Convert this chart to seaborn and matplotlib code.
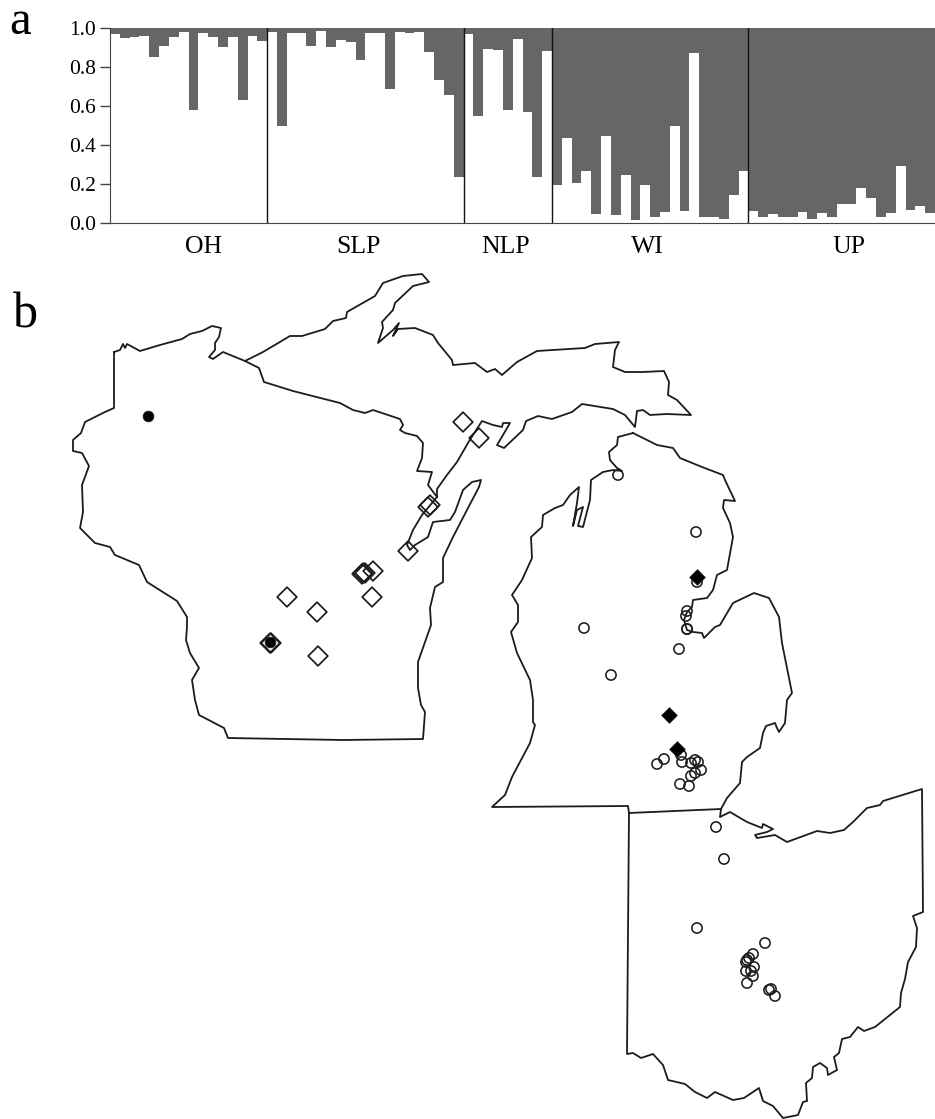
import matplotlib
matplotlib.use('Agg')
import matplotlib.pyplot as plt
import pandas as pd
import seaborn as sns

# panel a: white share of each bar, by region
oh = [.97, .95, .955, .96, .85, .91, .955, .98, .58, .975, .955, .905, .955, .63, .96, .935]
slp = [.98, .50, .975, .975, .91, .985, .905, .94, .93, .835, .975, .975, .685, .98, .975, .98, .875, .735, .655, .235]
nlp = [.97, .55, .89, .885, .58, .945, .57, .235, .88]
wi = [.196, .437, .206, .268, .044, .444, .04, .244, .014, .195, .03, .058, .495, .063, .87, .03, .03, .02, .145, .268]
up = [.061, .03, .044, .03, .03, .058, .02, .05, .03, .099, .099, .18, .13, .03, .05, .294, .068, .087, .05]
region_names = ['OH', 'SLP', 'NLP', 'WI', 'UP']
region_label_pos = [8.97, 24.75, 39.82, 54.2, 74.75]
y_ticks = [0.0, 0.2, 0.4, 0.6, 0.8, 1.0]

# panel b: outlines and sites in picture pixels
wisconsin = [(114,352),(120,350),(123,344),(125,348),(127,344),(140,351),(160,345),(182,339),(190,334),(202,331),
             (212,326),(221,328),(219,337),(215,343),(215,350),(209,357),(213,359),(223,352),(245,361),(259,368),
             (264,382),(293,391),(340,403),(353,410),(365,413),(373,410),(400,419),(403,425),(400,430),(405,433),
             (417,436),(423,443),(422,458),(417,471),(432,472),(428,485),(437,497),(422,515),(413,530),(407,545),
             (410,550),(415,545),(428,537),(433,522),(450,520),(455,512),(463,490),(472,482),(481,480),(479,487),
             (468,508),(453,537),(443,558),(443,582),(435,587),(430,608),(431,625),(418,662),(418,688),(421,705),
             (425,712),(423,739),(343,740),(228,738),(224,728),(199,715),(195,700),(192,680),(199,668),(190,653),
             (186,640),(187,627),(187,617),(177,601),(147,582),(139,565),(115,555),(110,547),(95,543),(80,528),
             (83,512),(82,485),(89,466),(82,453),(73,451),(73,440),(81,433),(85,422),(105,412),(114,408),(114,352)]
upper_pen = [(245,361),(263,352),(290,336),(302,336),(325,329),(333,321),(346,318),(347,312),(375,296),(383,283),
             (403,276),(422,274),(429,282),(413,286),(395,303),(393,310),(382,322),(383,328),(378,343),(393,330),
             (399,323),(393,336),(398,329),(415,328),(433,335),(438,343),(452,360),(453,365),(475,363),(487,372),
             (495,369),(502,375),(517,362),(537,351),(585,348),(595,344),(619,342),(615,350),(613,367),(625,372),
             (643,372),(664,371),(669,382),(668,395),(677,400),(691,415),(667,414),(650,415),(643,410),(637,411),
             (635,427),(625,415),(613,409),(582,404),(572,412),(552,419),(538,416),(526,421),(523,430),(504,448),
             (497,445),(503,435),(510,423),(503,423),(502,427),(493,425),(482,421),(473,435),(468,443),(457,462),
             (447,475),(437,489),(437,497)]
lower_pen = [(633,433),(618,437),(617,445),(609,452),(610,460),(617,468),(622,471),(613,470),(603,472),(591,480),
             (590,500),(583,527),(578,526),(583,507),(577,510),(573,526),(577,503),(579,487),(570,495),(563,505),
             (555,508),(543,515),(542,527),(531,537),(532,558),(522,580),(512,595),(518,605),(518,622),(511,632),
             (517,653),(530,680),(533,700),(533,722),(535,725),(530,743),(512,777),(505,795),(492,807),(628,806),
             (629,813),(721,809),(727,798),(740,783),(742,762),(747,757),(760,748),(763,733),(766,726),(775,723),
             (777,728),(779,732),(785,723),(787,700),(792,693),(782,643),(779,617),(769,598),(754,593),(733,603),
             (720,625),(715,627),(704,638),(702,633),(693,632),(687,630),(684,620),(687,612),(692,607),(693,600),
             (707,598),(713,590),(717,575),(727,570),(733,537),(730,523),(723,508),(724,500),(735,501),(725,480),
             (723,475),(702,467),(680,458),(673,448),(657,445),(633,433)]
ohio = [(629,813),(627,1054),(633,1053),(641,1058),(653,1054),(663,1065),(668,1080),(685,1084),(695,1092),(707,1098),
        (715,1092),(733,1100),(744,1098),(759,1088),(763,1101),(773,1106),(783,1118),(798,1115),(803,1102),(807,1101),
        (806,1083),(812,1078),(813,1067),(820,1063),(827,1068),(828,1075),(837,1070),(834,1057),(839,1053),(842,1039),
        (850,1037),(858,1027),(864,1031),(875,1027),(900,1007),(901,993),(905,979),(908,962),(916,947),(917,928),
        (913,916),(923,912),(922,789),(883,801),(880,805),(867,808),(853,822),(844,830),(830,833),(817,831),
        (787,842),(775,835),(757,838),(755,835),(767,832),(773,829),(763,824),(762,828),(747,822),(730,812),
        (720,817),(721,809)]
outlines = [wisconsin, upper_pen, lower_pen, ohio]

open_circles = [(716,827),(724,859),(697,928),(765,943),(753,954),(749,958),(747,960),(746,962),(754,967),(746,971),
                (751,971),(753,976),(747,983),(769,990),(771,989),(775,996),(584,628),(611,675),(679,649),(687,629),
                (687,629),(664,759),(657,764),(681,755),(682,762),(691,763),(695,760),(698,762),(701,770),(695,773),
                (691,776),(680,784),(689,786),(618,475),(696,532),(697,582),(687,611),(686,616)]
open_diamonds = [(463,422),(479,438),(430,505),(428,507),(408,551),(363,573),(365,573),(362,574),(373,571),(372,597),
                 (287,597),(317,612),(318,656),(271,643),(270,643)]
filled_diamonds = [(669,715),(677,749),(697,577)]
filled_circles = [(148,416),(270,642)]

W, H = 935, 1119
GREY = '#666666'
INK = '#1c1c1c'

plt.rcParams['font.family'] = ['Liberation Serif', 'DejaVu Serif']

fig = plt.figure(figsize=(W / 100, H / 100), dpi=100, facecolor='white')

# --- panel a ---
ax = fig.add_axes([110 / W, 1 - 223 / H, (W - 110) / W, 195 / H])
white = oh + slp + nlp + wi + up
bars = pd.DataFrame({'bar': range(len(white)), 'white': white, 'total': 1.0})
sns.barplot(data=bars, x='bar', y='total', color=GREY, saturation=1, width=1, linewidth=0, ax=ax)
sns.barplot(data=bars, x='bar', y='white', color='white', saturation=1, width=1, linewidth=0, ax=ax)
ax.set_xlim(-0.5, len(white) - 0.5)
ax.set_ylim(0, 1)
ax.set_xlabel('')
ax.set_ylabel('')
ax.set_yticks(y_ticks)
ax.set_yticklabels([f'{t:.1f}' for t in y_ticks], fontsize=15.5)
ax.set_xticks(region_label_pos)
ax.set_xticklabels(region_names, fontsize=18.5)
ax.tick_params(axis='x', length=0, pad=9)
ax.tick_params(axis='y', length=7, width=1, color='#444444', pad=3)
edge = -0.5
for group in [oh, slp, nlp, wi]:
    edge += len(group)
    ax.axvline(edge, color='#111111', lw=1)
sns.despine(ax=ax, top=True, right=True)
ax.spines['left'].set_color('#444444')
ax.spines['bottom'].set_color('#444444')

# --- panel b: one axes over the whole figure, in picture pixels ---
mp = fig.add_axes([0, 0, 1, 1], facecolor='none')
mp.set_xlim(0, W)
mp.set_ylim(H, 0)
mp.axis('off')

for outline in outlines:
    line = pd.DataFrame(outline, columns=['x', 'y'])
    sns.lineplot(data=line, x='x', y='y', sort=False, estimator=None, color=INK, lw=1.3, ax=mp)

def sites(points, marker, size, face, lw):
    df = pd.DataFrame(points, columns=['x', 'y'])
    sns.scatterplot(data=df, x='x', y='y', marker=marker, s=size, color=face, edgecolor=INK, linewidth=lw, ax=mp, zorder=3)

sites(open_circles, 'o', 54, 'none', 1.15)
sites(open_diamonds, 'D', 100, 'none', 1.25)
sites(filled_circles, 'o', 60, 'black', 0.5)
sites(filled_diamonds, 'D', 64, 'black', 0.5)
mp.set_xlabel('')
mp.set_ylabel('')

fig.text(9 / W, 1 - 34 / H, 'a', fontsize=35, color='black')
fig.text(13 / W, 1 - 328 / H, 'b', fontsize=36, color='black')

fig.savefig('out.png', dpi=100)
